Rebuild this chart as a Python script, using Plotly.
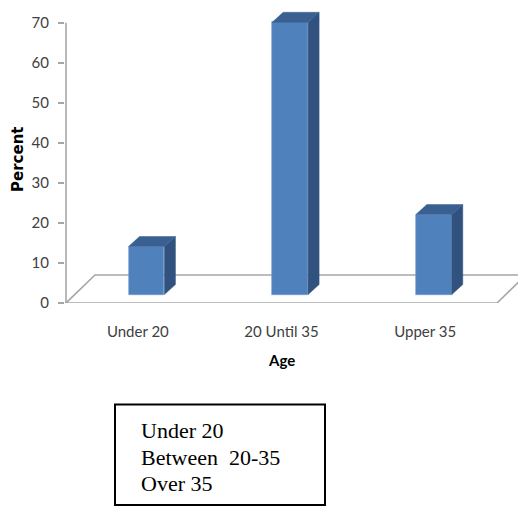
import plotly.graph_objects as go

# Age groups and share of respondents (%)
categories = ["Under 20", "20 Until 35", "Upper 35"]
percent = [12, 68, 20]
y_ticks = [0, 10, 20, 30, 40, 50, 60, 70]
legend_lines = ["Under 20", "Between  20-35", "Over 35"]

# Pseudo-3D geometry (data units)
BAR_W = 0.25          # front face width
BAR_DX = 0.0766       # bar depth, horizontal component
BAR_DY = 2.5          # bar depth, vertical component
BASE = 2.1            # bar front sits slightly back on the floor
SHIFT = 0.06          # matching horizontal shift of the bar front
FLOOR_DX = 0.2018     # floor depth, horizontal component
FLOOR_DY = 7.0        # floor depth, vertical component

FRONT = "#4F81BD"
SIDE = "#31527E"
TOP = "#3A6091"
GRID_GREY = "#A6A6A6"

xpos = [i + SHIFT for i in range(len(categories))]

fig = go.Figure()

# front faces
fig.add_trace(go.Bar(
    x=xpos, y=percent, base=BASE, width=BAR_W,
    marker=dict(color=FRONT, line=dict(color="#6F9AD0", width=0.6)),
    hoverinfo="skip", showlegend=False,
))

# side and top faces
for xc, v in zip(xpos, percent):
    xr = xc + BAR_W / 2
    xl = xc - BAR_W / 2
    top = BASE + v
    fig.add_trace(go.Scatter(
        x=[xr, xr + BAR_DX, xr + BAR_DX, xr, xr],
        y=[BASE, BASE + BAR_DY, top + BAR_DY, top, BASE],
        fill="toself", fillcolor=SIDE, mode="lines",
        line=dict(width=0.5, color=SIDE), hoverinfo="skip", showlegend=False,
    ))
    fig.add_trace(go.Scatter(
        x=[xl, xr, xr + BAR_DX, xl + BAR_DX, xl],
        y=[top, top, top + BAR_DY, top + BAR_DY, top],
        fill="toself", fillcolor=TOP, mode="lines",
        line=dict(width=0.5, color=TOP), hoverinfo="skip", showlegend=False,
    ))

x0, x1 = -0.5, len(categories) - 0.5
shapes = [
    # floor
    dict(type="path", xref="x", yref="y", layer="below",
         path=(f"M {x0},0 L {x1},0 L {x1 + FLOOR_DX},{FLOOR_DY} "
               f"L {x0 + FLOOR_DX},{FLOOR_DY} Z"),
         line=dict(color=GRID_GREY, width=1.6), fillcolor="white"),
    # value axis line
    dict(type="line", xref="x", yref="y", x0=x0, x1=x0, y0=0, y1=max(y_ticks),
         line=dict(color=GRID_GREY, width=1.6), layer="below"),
    # key box
    dict(type="rect", xref="paper", yref="paper",
         x0=(115 - 65) / 453, x1=(325 - 65) / 453,
         y0=(303 - 505) / 298, y1=(303 - 404.5) / 298,
         line=dict(color="black", width=2), fillcolor="rgba(0,0,0,0)"),
]

annotations = [
    dict(text="<b>Percent</b>", xref="paper", yref="paper", x=(18 - 65) / 453,
         y=(303 - 160) / 298, textangle=-90, showarrow=False,
         font=dict(family="DejaVu Sans", size=15, color="black"),
         xanchor="center", yanchor="middle"),
    dict(text="<b>Age</b>", xref="paper", yref="paper", x=(281 - 65) / 453,
         y=(303 - 360) / 298, showarrow=False,
         font=dict(family="Lato", size=15, color="black"),
         xanchor="center", yanchor="middle"),
]

for i, line in enumerate(legend_lines):
    annotations.append(dict(
        text=line, xref="paper", yref="paper", x=(139 - 65) / 453,
        y=(303 - (430 + 27 * i)) / 298, showarrow=False,
        font=dict(family="Liberation Serif", size=22, color="black"),
        xanchor="left", yanchor="middle",
    ))

fig.update_layout(
    width=518, height=507,
    margin=dict(l=65, r=0, t=5, b=204),
    plot_bgcolor="white", paper_bgcolor="white",
    showlegend=False, bargap=0,
    shapes=shapes, annotations=annotations,
    xaxis=dict(
        range=[-0.507, 2.646], tickvals=list(range(len(categories))),
        ticktext=categories, ticks="", showgrid=False, zeroline=False,
        showline=False, ticklabelstandoff=18,
        tickfont=dict(family="Lato", size=15, color="#404040"),
    ),
    yaxis=dict(
        range=[0, 74.42], tickvals=y_ticks, ticks="outside", ticklen=6,
        tickcolor=GRID_GREY, tickwidth=1.5, showgrid=False, zeroline=False,
        showline=False, ticklabelstandoff=6,
        tickfont=dict(family="Lato", size=15, color="#404040"),
    ),
)

fig.write_html("out.html")
